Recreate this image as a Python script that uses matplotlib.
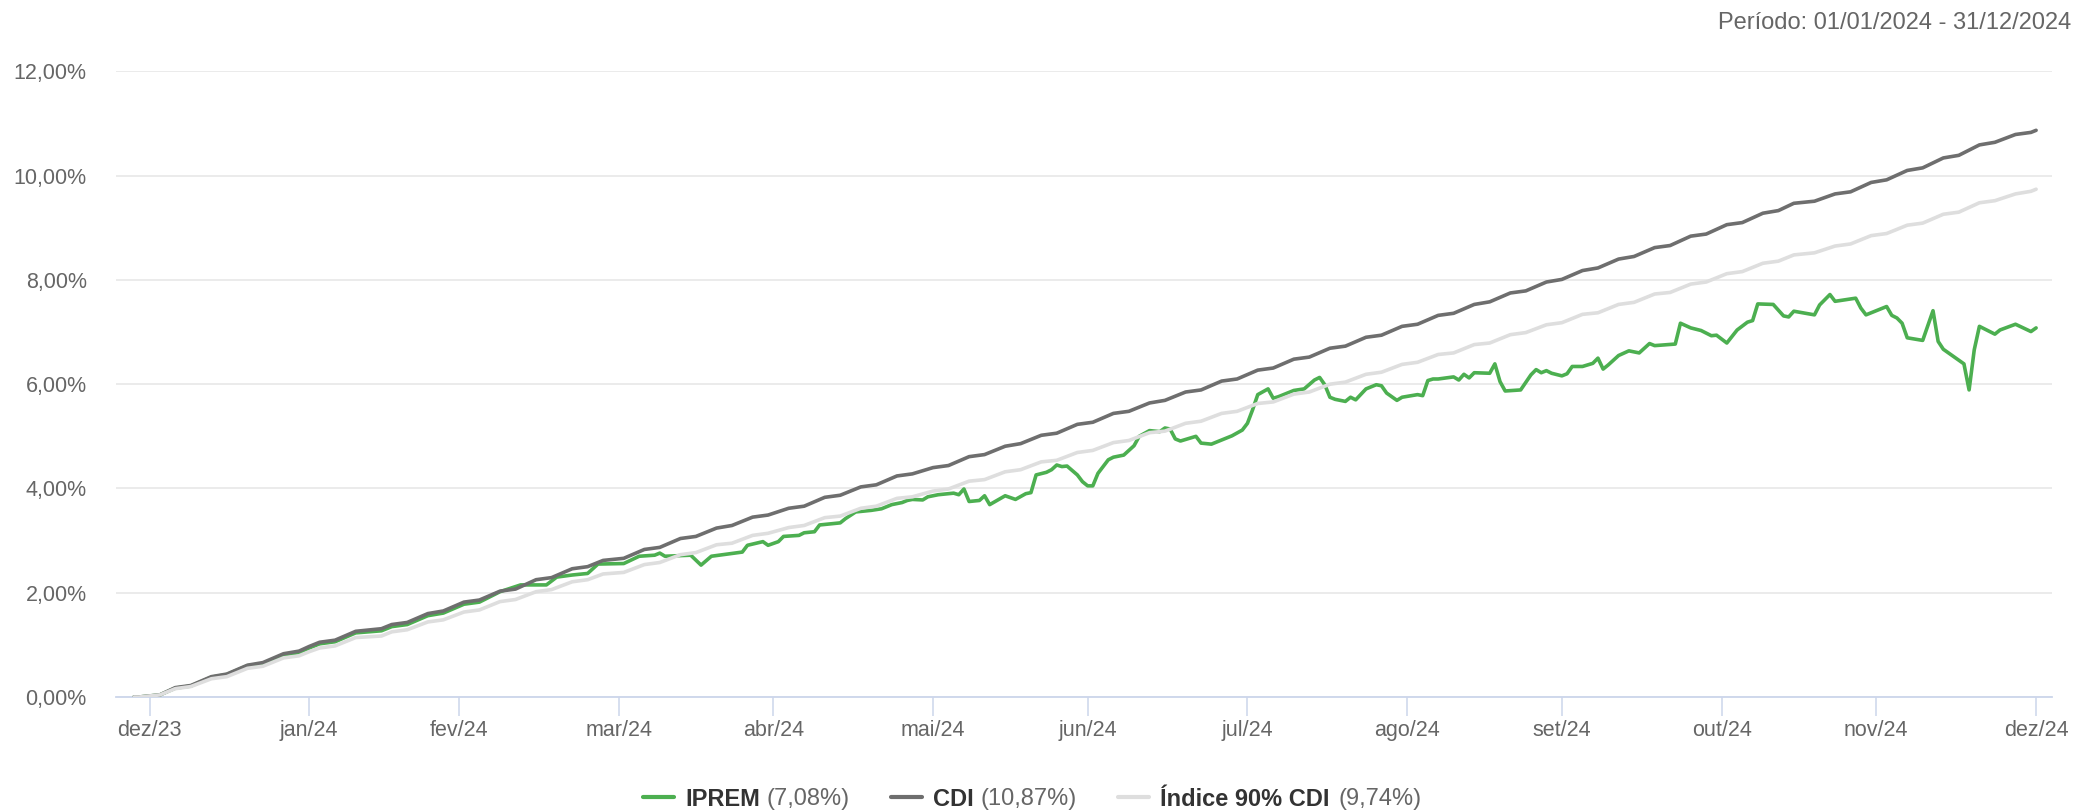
import matplotlib
matplotlib.use("Agg")
import matplotlib.pyplot as plt
import pandas as pd

plt.rcParams['font.family'] = ['Liberation Sans', 'DejaVu Sans']
plt.rcParams['mathtext.fontset'] = 'custom'
plt.rcParams['mathtext.bf'] = 'Liberation Sans:bold'
plt.rcParams['mathtext.rm'] = 'Liberation Sans'

# CDI e 90% CDI acumulados (%) (segundas e sextas)
cdi_dates = [
    "2023-12-28", "2023-12-29", "2024-01-02", "2024-01-05", "2024-01-08", "2024-01-12", "2024-01-15",
    "2024-01-19", "2024-01-22", "2024-01-26", "2024-01-29", "2024-01-31", "2024-02-02", "2024-02-05",
    "2024-02-09", "2024-02-14", "2024-02-16", "2024-02-19", "2024-02-23", "2024-02-26", "2024-03-01",
    "2024-03-04", "2024-03-08", "2024-03-11", "2024-03-15", "2024-03-18", "2024-03-22", "2024-03-25",
    "2024-03-28", "2024-04-01", "2024-04-05", "2024-04-08", "2024-04-12", "2024-04-15", "2024-04-19",
    "2024-04-22", "2024-04-26", "2024-04-29", "2024-05-03", "2024-05-06", "2024-05-10", "2024-05-13",
    "2024-05-17", "2024-05-20", "2024-05-24", "2024-05-27", "2024-05-31", "2024-06-03", "2024-06-07",
    "2024-06-10", "2024-06-14", "2024-06-17", "2024-06-21", "2024-06-24", "2024-06-28", "2024-07-01",
    "2024-07-05", "2024-07-08", "2024-07-12", "2024-07-15", "2024-07-19", "2024-07-22", "2024-07-26",
    "2024-07-29", "2024-08-02", "2024-08-05", "2024-08-09", "2024-08-12", "2024-08-16", "2024-08-19",
    "2024-08-23", "2024-08-26", "2024-08-30", "2024-09-02", "2024-09-06", "2024-09-09", "2024-09-13",
    "2024-09-16", "2024-09-20", "2024-09-23", "2024-09-27", "2024-09-30", "2024-10-04", "2024-10-07",
    "2024-10-11", "2024-10-14", "2024-10-18", "2024-10-21", "2024-10-25", "2024-10-28", "2024-11-01",
    "2024-11-04", "2024-11-08", "2024-11-11", "2024-11-14", "2024-11-18", "2024-11-22", "2024-11-25",
    "2024-11-29", "2024-12-02", "2024-12-06", "2024-12-09", "2024-12-13", "2024-12-16", "2024-12-20",
    "2024-12-23", "2024-12-27", "2024-12-30", "2024-12-31",
]
cdi = [
    0.00, 0.00, 0.04, 0.18, 0.22, 0.39, 0.44, 0.61, 0.66, 0.83, 0.88, 0.97, 1.05, 1.09,
    1.26, 1.31, 1.39, 1.43, 1.60, 1.65, 1.82, 1.86, 2.03, 2.07, 2.25, 2.29, 2.46, 2.50,
    2.62, 2.66, 2.83, 2.87, 3.04, 3.08, 3.24, 3.29, 3.45, 3.49, 3.62, 3.66, 3.83, 3.87,
    4.03, 4.07, 4.24, 4.28, 4.40, 4.44, 4.61, 4.65, 4.81, 4.86, 5.02, 5.06, 5.23, 5.27,
    5.44, 5.48, 5.64, 5.69, 5.85, 5.89, 6.06, 6.10, 6.27, 6.31, 6.48, 6.52, 6.69, 6.73,
    6.90, 6.94, 7.11, 7.15, 7.32, 7.36, 7.53, 7.58, 7.75, 7.79, 7.96, 8.01, 8.18, 8.23,
    8.40, 8.45, 8.62, 8.66, 8.84, 8.88, 9.06, 9.10, 9.28, 9.33, 9.47, 9.51, 9.65, 9.69,
    9.87, 9.92, 10.10, 10.15, 10.34, 10.39, 10.59, 10.64, 10.79, 10.83, 10.87,
]
cdi90 = [
    0.00, 0.00, 0.04, 0.16, 0.20, 0.35, 0.39, 0.55, 0.59, 0.75, 0.79, 0.87, 0.94, 0.98,
    1.14, 1.17, 1.25, 1.29, 1.44, 1.48, 1.63, 1.67, 1.83, 1.87, 2.02, 2.06, 2.21, 2.25,
    2.36, 2.39, 2.54, 2.58, 2.73, 2.77, 2.92, 2.95, 3.10, 3.14, 3.25, 3.29, 3.44, 3.47,
    3.62, 3.66, 3.81, 3.84, 3.95, 3.99, 4.14, 4.17, 4.32, 4.36, 4.51, 4.54, 4.69, 4.73,
    4.88, 4.92, 5.07, 5.10, 5.25, 5.29, 5.44, 5.48, 5.63, 5.66, 5.81, 5.85, 6.00, 6.04,
    6.19, 6.23, 6.38, 6.42, 6.57, 6.60, 6.76, 6.79, 6.95, 6.99, 7.14, 7.18, 7.34, 7.37,
    7.53, 7.57, 7.73, 7.76, 7.92, 7.96, 8.12, 8.16, 8.32, 8.36, 8.48, 8.52, 8.65, 8.69,
    8.85, 8.89, 9.05, 9.09, 9.26, 9.30, 9.48, 9.52, 9.65, 9.70, 9.74,
]

# IPREM acumulado (%)
iprem_dates = [
    "2023-12-28", "2023-12-29", "2024-01-02", "2024-01-05", "2024-01-08", "2024-01-12", "2024-01-15",
    "2024-01-19", "2024-01-22", "2024-01-26", "2024-01-29", "2024-01-31", "2024-02-02", "2024-02-05",
    "2024-02-09", "2024-02-14", "2024-02-16", "2024-02-19", "2024-02-23", "2024-02-26", "2024-03-01",
    "2024-03-04", "2024-03-08", "2024-03-12", "2024-03-17", "2024-03-19", "2024-03-22", "2024-03-25",
    "2024-03-27", "2024-04-01", "2024-04-04", "2024-04-07", "2024-04-08", "2024-04-09", "2024-04-14",
    "2024-04-16", "2024-04-18", "2024-04-24", "2024-04-25", "2024-04-28", "2024-04-29", "2024-05-01",
    "2024-05-02", "2024-05-05", "2024-05-06", "2024-05-08", "2024-05-09", "2024-05-13", "2024-05-14",
    "2024-05-16", "2024-05-19", "2024-05-21", "2024-05-23", "2024-05-25", "2024-05-26", "2024-05-27",
    "2024-05-29", "2024-05-30", "2024-06-01", "2024-06-04", "2024-06-05", "2024-06-06", "2024-06-07",
    "2024-06-09", "2024-06-10", "2024-06-11", "2024-06-14", "2024-06-16", "2024-06-18", "2024-06-19",
    "2024-06-20", "2024-06-22", "2024-06-23", "2024-06-24", "2024-06-25", "2024-06-26", "2024-06-28",
    "2024-06-29", "2024-06-30", "2024-07-01", "2024-07-02", "2024-07-04", "2024-07-05", "2024-07-07",
    "2024-07-09", "2024-07-10", "2024-07-12", "2024-07-14", "2024-07-15", "2024-07-16", "2024-07-17",
    "2024-07-18", "2024-07-21", "2024-07-22", "2024-07-24", "2024-07-26", "2024-07-28", "2024-07-30",
    "2024-07-31", "2024-08-01", "2024-08-02", "2024-08-04", "2024-08-05", "2024-08-06", "2024-08-09",
    "2024-08-11", "2024-08-13", "2024-08-14", "2024-08-15", "2024-08-16", "2024-08-17", "2024-08-19",
    "2024-08-20", "2024-08-21", "2024-08-23", "2024-08-25", "2024-08-26", "2024-08-27", "2024-08-29",
    "2024-08-30", "2024-09-02", "2024-09-03", "2024-09-04", "2024-09-05", "2024-09-06", "2024-09-09",
    "2024-09-10", "2024-09-11", "2024-09-12", "2024-09-13", "2024-09-16", "2024-09-17", "2024-09-18",
    "2024-09-19", "2024-09-22", "2024-09-24", "2024-09-25", "2024-09-26", "2024-09-27", "2024-09-28",
    "2024-09-30", "2024-10-01", "2024-10-02", "2024-10-04", "2024-10-06", "2024-10-07", "2024-10-08",
    "2024-10-09", "2024-10-11", "2024-10-13", "2024-10-15", "2024-10-17", "2024-10-18", "2024-10-22",
    "2024-10-23", "2024-10-25", "2024-10-27", "2024-10-29", "2024-10-30", "2024-11-01", "2024-11-03",
    "2024-11-05", "2024-11-06", "2024-11-07", "2024-11-10", "2024-11-12", "2024-11-13", "2024-11-14",
    "2024-11-18", "2024-11-19", "2024-11-21", "2024-11-22", "2024-11-26", "2024-11-27", "2024-11-28",
    "2024-12-02", "2024-12-03", "2024-12-04", "2024-12-05", "2024-12-06", "2024-12-09", "2024-12-11",
    "2024-12-12", "2024-12-13", "2024-12-15", "2024-12-17", "2024-12-18", "2024-12-19", "2024-12-20",
    "2024-12-23", "2024-12-24", "2024-12-27", "2024-12-30", "2024-12-31",
]
iprem = [
    0.00, 0.00, 0.04, 0.17, 0.21, 0.38, 0.43, 0.60, 0.64, 0.81, 0.85, 0.94, 1.02, 1.06,
    1.23, 1.27, 1.35, 1.39, 1.56, 1.61, 1.78, 1.82, 2.02, 2.15, 2.15, 2.30, 2.34, 2.37,
    2.55, 2.56, 2.70, 2.72, 2.76, 2.70, 2.72, 2.53, 2.70, 2.78, 2.91, 2.98, 2.91, 2.98,
    3.08, 3.10, 3.15, 3.17, 3.30, 3.34, 3.42, 3.55, 3.58, 3.61, 3.69, 3.73, 3.77, 3.79,
    3.78, 3.84, 3.88, 3.91, 3.88, 3.99, 3.75, 3.77, 3.86, 3.69, 3.86, 3.79, 3.90, 3.92,
    4.26, 4.31, 4.36, 4.45, 4.42, 4.43, 4.26, 4.13, 4.05, 4.05, 4.29, 4.55, 4.60, 4.64,
    4.82, 5.00, 5.11, 5.09, 5.16, 5.14, 4.95, 4.91, 5.00, 4.87, 4.85, 4.93, 5.01, 5.12,
    5.25, 5.51, 5.80, 5.91, 5.73, 5.76, 5.88, 5.91, 6.08, 6.13, 5.99, 5.75, 5.71, 5.67,
    5.75, 5.70, 5.91, 5.99, 5.97, 5.83, 5.69, 5.75, 5.80, 5.78, 6.07, 6.10, 6.10, 6.14,
    6.08, 6.19, 6.12, 6.22, 6.21, 6.39, 6.05, 5.87, 5.89, 6.18, 6.28, 6.22, 6.26, 6.21,
    6.16, 6.20, 6.34, 6.34, 6.40, 6.50, 6.29, 6.37, 6.55, 6.64, 6.60, 6.78, 6.74, 6.77,
    7.17, 7.08, 7.03, 6.93, 6.94, 6.79, 7.04, 7.19, 7.22, 7.54, 7.53, 7.31, 7.29, 7.40,
    7.33, 7.52, 7.72, 7.59, 7.65, 7.46, 7.33, 7.49, 7.32, 7.27, 7.17, 6.89, 6.84, 7.41,
    6.82, 6.67, 6.53, 6.39, 5.89, 6.66, 7.11, 6.96, 7.04, 7.15, 7.01, 7.08,
]

names = ["IPREM", "CDI", "Índice 90% CDI"]
finals = ["7,08%", "10,87%", "9,74%"]
colors = ["#4caf50", "#6e6e6e", "#dedede"]

month_ticks = ["2023-12-31", "2024-01-31", "2024-02-29", "2024-03-31", "2024-04-30", "2024-05-31",
               "2024-06-30", "2024-07-31", "2024-08-31", "2024-09-30", "2024-10-31", "2024-11-30",
               "2024-12-31"]
month_labels = ["dez/23", "jan/24", "fev/24", "mar/24", "abr/24", "mai/24", "jun/24", "jul/24",
                "ago/24", "set/24", "out/24", "nov/24", "dez/24"]
y_ticks = [0, 2, 4, 6, 8, 10, 12]

W, H = 2073, 811
fig = plt.figure(figsize=(W / 100, H / 100), dpi=100)
ax = fig.add_axes([116 / W, 1 - 697 / H, (2052 - 116) / W, (697 - 71.4) / H])

lw = 2.6
l1, = ax.plot(pd.to_datetime(iprem_dates), iprem, color=colors[0], lw=lw, zorder=3,
              solid_joinstyle='round', solid_capstyle='round')
l2, = ax.plot(pd.to_datetime(cdi_dates), cdi, color=colors[1], lw=lw, zorder=4,
              solid_joinstyle='round', solid_capstyle='round')
l3, = ax.plot(pd.to_datetime(cdi_dates), cdi90, color=colors[2], lw=lw, zorder=5,
              solid_joinstyle='round', solid_capstyle='round')

ax.set_xlim(pd.Timestamp("2023-12-24 12:00"), pd.Timestamp("2025-01-03 02:00"))
ax.set_ylim(0, 12)

ax.set_yticks(y_ticks)
ax.set_yticklabels([f"{v:.2f}".replace(".", ",") + "%" for v in y_ticks])
ax.set_xticks(pd.to_datetime(month_ticks))
ax.set_xticklabels(month_labels)

ax.tick_params(axis='y', length=0, pad=21, labelsize=15.5, labelcolor='#666666')
ax.tick_params(axis='x', length=13.5, width=1.1, color='#ccd6eb', pad=3,
               labelsize=15.5, labelcolor='#666666')
ax.grid(axis='y', color='#e6e6e6', lw=1.1)
ax.set_axisbelow(True)
for s in ['top', 'right', 'left']:
    ax.spines[s].set_visible(False)
ax.spines['bottom'].set_color('#ccd6eb')
ax.spines['bottom'].set_linewidth(1.3)
ax.spines['bottom'].set_zorder(2.5)

fig.text(2071 / W, 1 - 23 / H, "Período: 01/01/2024 - 31/12/2024", ha='right', va='center',
         fontsize=17, color='#666666')

# legenda: nome em negrito + valor final em cinza
labels = []
for n, f in zip(names, finals):
    nm = n.replace("%", r"\%").replace(" ", r"\ ")
    labels.append("$\\mathbf{" + nm + "}$ (" + f + ")")
leg = fig.legend([l1, l2, l3], labels, loc='center', bbox_to_anchor=(0.498, 1 - 797 / H),
                 ncol=3, frameon=False, fontsize=17, handlelength=1.3, handletextpad=0.47,
                 columnspacing=1.75)
for h in leg.legend_handles:
    h.set_linewidth(3)

fig.canvas.draw()
r = fig.canvas.get_renderer()
for t, n, f in zip(leg.get_texts(), names, finals):
    bb = t.get_window_extent(r)
    x0, yb = t.get_transform().transform(t.get_position())
    t.set_visible(False)
    fig.text(x0 / W, yb / H, n, fontsize=17, fontweight='bold', color='#333333',
             ha='left', va='baseline')
    fig.text(bb.x1 / W, yb / H, "(" + f + ")", fontsize=17, color='#666666',
             ha='right', va='baseline')

fig.savefig("out.png", dpi=100)
